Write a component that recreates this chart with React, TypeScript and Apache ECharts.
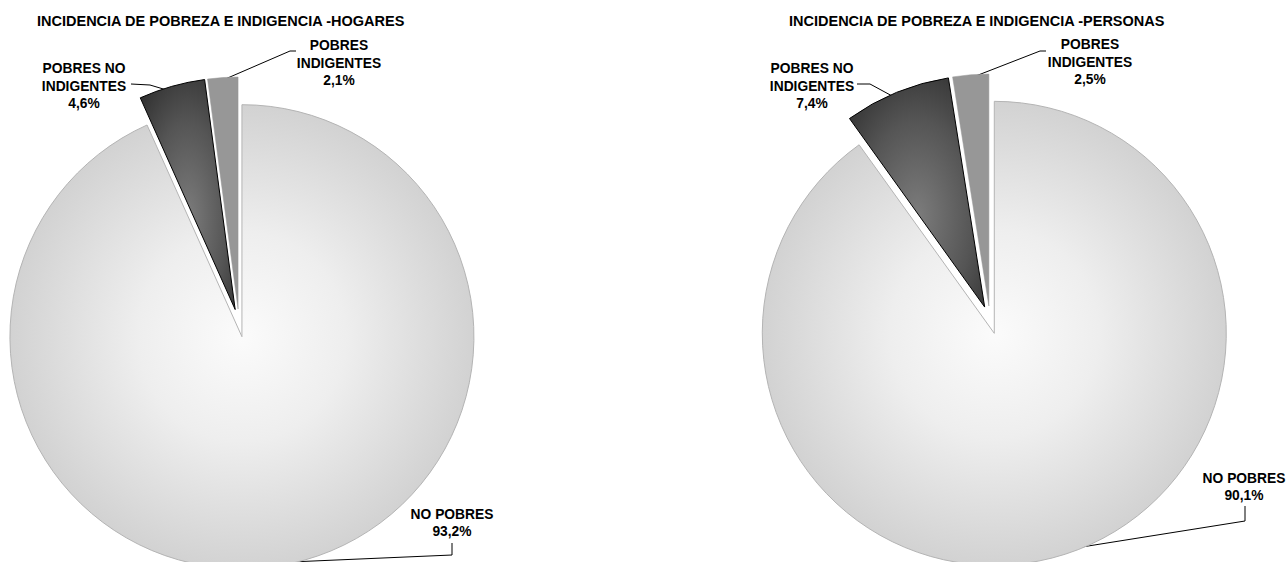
import React, { useEffect, useRef } from "react";
import * as echarts from "echarts";

const categories = ["NO POBRES", "POBRES NO INDIGENTES", "POBRES INDIGENTES"];
const labelNames = ["NO POBRES", "POBRES NO\nINDIGENTES", "POBRES\nINDIGENTES"];
const hogaresValues = [93.2, 4.6, 2.1];
const personasValues = [90.1, 7.4, 2.5];
const titles = [
  "INCIDENCIA DE POBREZA E INDIGENCIA -HOGARES",
  "INCIDENCIA DE POBREZA E INDIGENCIA -PERSONAS",
];

const FONT = "Arial, 'Liberation Sans', sans-serif";
const EXPLODE = 14;
const RADIUS = 232;

const sliceStyles: any[] = [
  {
    color: {
      type: "radial",
      x: 0.5,
      y: 0.5,
      r: 0.5,
      colorStops: [
        { offset: 0, color: "#fbfbfb" },
        { offset: 0.45, color: "#eeeeee" },
        { offset: 1, color: "#d2d2d2" },
      ],
    },
    borderColor: "#b4b4b4",
    borderWidth: 1,
  },
  {
    color: {
      type: "radial",
      x: 0.5,
      y: 0.6,
      r: 0.75,
      colorStops: [
        { offset: 0, color: "#7c7c7c" },
        { offset: 0.55, color: "#555555" },
        { offset: 1, color: "#2c2c2c" },
      ],
    },
    borderColor: "#000000",
    borderWidth: 1,
  },
  {
    color: "#979797",
    borderColor: "#979797",
    borderWidth: 0.5,
  },
];

const hiddenStyle = { color: "rgba(0,0,0,0)", borderWidth: 0 };

// label layout (pixel positions) for each pie
const leftLabelPos = [
  { x: 452, y: 523, line: [[290, 562], [452, 555], [452, 543]] },
  { x: 84, y: 86, line: [[170, 91], [150, 85], [131, 84]] },
  { x: 339, y: 63, line: [[223, 80], [290, 51], [296, 51]] },
];
const rightLabelPos = [
  { x: 1244, y: 487, line: [[1063, 550], [1245, 521], [1245, 506]] },
  { x: 812, y: 86, line: [[894, 97], [870, 84], [857, 84]] },
  { x: 1090, y: 62, line: [[968, 79], [1040, 51], [1046, 51]] },
];

const fmt = (v: number) => v.toFixed(1).replace(".", ",") + "%";

// one series per slice so that each slice can be pulled out from the centre
function makeSeries(values: number[], center: number[], pos: any[]) {
  const total = values.reduce((a, b) => a + b, 0);
  let cum = 0;
  return values.map((v, k) => {
    const midFrac = (cum + v / 2) / total;
    cum += v;
    const ang = Math.PI / 2 - midFrac * Math.PI * 2; // clockwise from top
    const cx = center[0] + Math.cos(ang) * EXPLODE;
    const cy = center[1] - Math.sin(ang) * EXPLODE;
    return {
      type: "pie",
      center: [cx, cy],
      radius: RADIUS,
      startAngle: 90,
      clockwise: true,
      silent: true,
      avoidLabelOverlap: false,
      emphasis: { disabled: true },
      data: categories.map((c, i) => ({
        name: c,
        value: values[i],
        itemStyle: i === k ? sliceStyles[i] : hiddenStyle,
        label: { show: i === k },
        labelLine: { show: i === k },
      })),
      label: {
        position: "outside",
        formatter: (p: any) => labelNames[p.dataIndex] + "\n" + fmt(p.value),
        color: "#000",
        fontFamily: FONT,
        fontWeight: "bold",
        fontSize: 13.8,
        lineHeight: 17.5,
        align: "center",
      },
      labelLine: {
        lineStyle: { color: "#000", width: 1 },
      },
      labelLayout: (params: any) => {
        if (params.dataIndex !== k) return {};
        const p = pos[params.dataIndex];
        return {
          x: p.x,
          y: p.y,
          align: "center",
          verticalAlign: "middle",
          labelLinePoints: p.line.map((q: number[]) => [q[0], q[1]]),
        };
      },
    };
  });
}

export default function App() {
  const ref = useRef<HTMLDivElement>(null);
  useEffect(() => {
    if (!ref.current) return;
    const chart = echarts.init(ref.current, null, { renderer: "svg" });
    const titleStyle = { fontFamily: FONT, fontWeight: "bold", fontSize: 14.5, color: "#000" };
    chart.setOption({
      animation: false,
      backgroundColor: "#ffffff",
      title: [
        { text: titles[0], left: 37, top: 13, padding: 0, textStyle: titleStyle },
        { text: titles[1], left: 789, top: 13, padding: 0, textStyle: titleStyle },
      ],
      series: [
        ...makeSeries(hogaresValues, [239, 323], leftLabelPos),
        ...makeSeries(personasValues, [990, 320], rightLabelPos),
      ],
    });
    return () => chart.dispose();
  }, []);
  return (
    <div
      ref={ref}
      style={{ position: "absolute", left: 0, top: 0, width: 1287, height: 562 }}
    />
  );
}
